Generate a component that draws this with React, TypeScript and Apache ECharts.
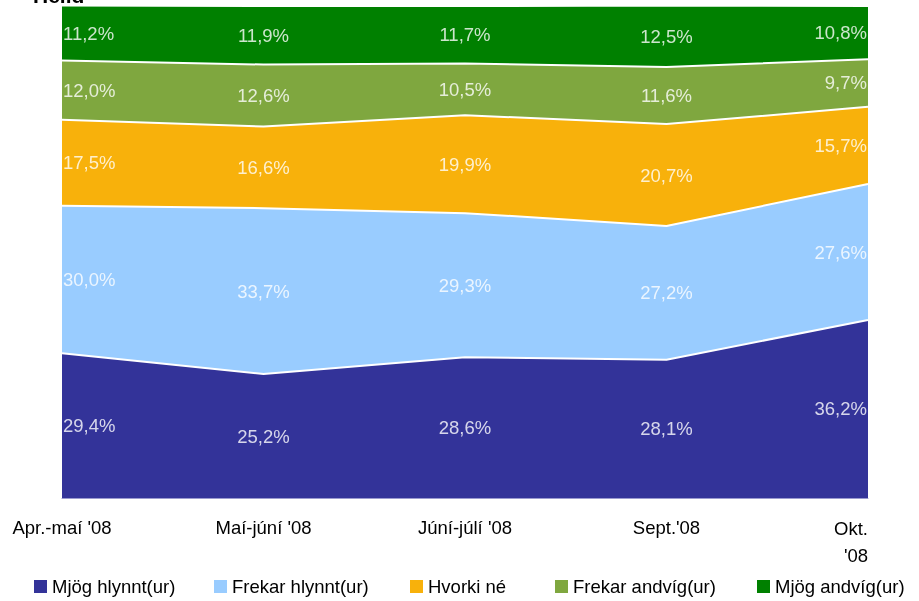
import React, { useEffect, useRef } from "react";
import * as echarts from "echarts";

const categories = ["Apr.-maí '08", "Maí-júní '08", "Júní-júlí '08", "Sept.'08", "Okt.\n'08"];
const seriesNames = ["Mjög hlynnt(ur)", "Frekar hlynnt(ur)", "Hvorki né", "Frekar andvíg(ur)", "Mjög andvíg(ur)"];
const mjogHlynnt = [29.4, 25.2, 28.6, 28.1, 36.2];
const frekarHlynnt = [30.0, 33.7, 29.3, 27.2, 27.6];
const hvorki = [17.5, 16.6, 19.9, 20.7, 15.7];
const frekarAndvig = [12.0, 12.6, 10.5, 11.6, 9.7];
const mjogAndvig = [11.2, 11.9, 11.7, 12.5, 10.8];
const colors = ["#333399", "#99ccff", "#f8b10b", "#7fa73f", "#008000"];

const allValues = [mjogHlynnt, frekarHlynnt, hvorki, frekarAndvig, mjogAndvig];

const fmt = (v: number) => v.toFixed(1).replace(".", ",") + "%";

export default function App() {
  const ref = useRef<HTMLDivElement>(null);
  useEffect(() => {
    if (!ref.current) return;
    const chart = echarts.init(ref.current, null, { renderer: "svg" });
    const font = "'Liberation Sans', Arial, sans-serif";
    const fs = 18.5;
    const n = categories.length;
    const labelData: any[] = [];
    const cum = new Array(n).fill(0);
    allValues.forEach((arr) => {
      arr.forEach((v, i) => {
        const mid = cum[i] + v / 2;
        cum[i] += v;
        let pos: any = "inside";
        if (i === 0) pos = "right";
        if (i === n - 1) pos = "left";
        labelData.push({
          value: [i, mid],
          txt: fmt(v),
          label: { position: pos, distance: 1 },
        });
      });
    });
    const lineSeries = allValues.map((arr, k) => ({
      name: seriesNames[k],
      type: "line",
      stack: "total",
      data: arr,
      symbol: "none",
      color: colors[k],
      lineStyle: { color: "#ffffff", width: 2 },
      areaStyle: { color: colors[k], opacity: 1 },
      itemStyle: { color: colors[k] },
      z: 2,
    }));
    const legendLefts = [34, 214, 410, 555, 757];
    chart.setOption({
      animation: false,
      textStyle: { fontFamily: font },
      grid: { left: 62, right: 51, top: 6, bottom: 103, containLabel: false },
      graphic: [
        {
          type: "text",
          left: 33,
          top: -15,
          style: { text: "Heild", font: `bold 21px ${font}`, fill: "#000" },
        },
      ],
      legend: seriesNames.map((name, k) => ({
        data: [name],
        top: 577,
        left: legendLefts[k],
        padding: 0,
        icon: "rect",
        itemWidth: 13,
        itemHeight: 13,
        itemGap: 0,
        textStyle: { fontSize: fs, color: "#000", fontFamily: font, padding: [0, 0, 0, 0] },
      })),
      xAxis: {
        type: "category",
        boundaryGap: false,
        data: categories.map((c, i) =>
          i === n - 1 ? { value: c, textStyle: { align: "right" } } : c
        ),
        axisLine: { show: true, lineStyle: { color: "#9a9ad0", width: 1 } },
        axisTick: { show: false },
        axisLabel: {
          fontSize: fs,
          color: "#000",
          margin: 20,
          interval: 0,
          fontFamily: font,
          formatter: (v: string) => {
            if (v.indexOf("\n") >= 0) {
              const parts = v.split("\n");
              return `{a|${parts[0]}}\n{b|${parts[1]}}`;
            }
            return v;
          },
          rich: {
            a: { fontSize: fs, lineHeight: 20, align: "right", color: "#000", fontFamily: font },
            b: { fontSize: fs, lineHeight: 34, align: "right", color: "#000", fontFamily: font },
          },
        },
        splitLine: { show: false },
        z: 5,
      },
      yAxis: {
        type: "value",
        min: 0,
        max: 100,
        axisLine: { show: true, lineStyle: { color: "#9a9ad0" } },
        axisTick: { show: false },
        axisLabel: { show: false },
        splitLine: { show: false },
      },
      series: [
        ...lineSeries,
        {
          type: "scatter",
          name: "labels",
          data: labelData,
          symbolSize: 0,
          silent: true,
          z: 10,
          label: {
            show: true,
            color: "#ffffff",
            fontSize: fs,
            fontFamily: font,
            formatter: (p: any) => p.data.txt,
          },
        },
      ],
    });
    return () => chart.dispose();
  }, []);
  return (
    <div
      ref={ref}
      style={{ position: "fixed", left: 0, top: 0, width: 919, height: 601 }}
    />
  );
}
